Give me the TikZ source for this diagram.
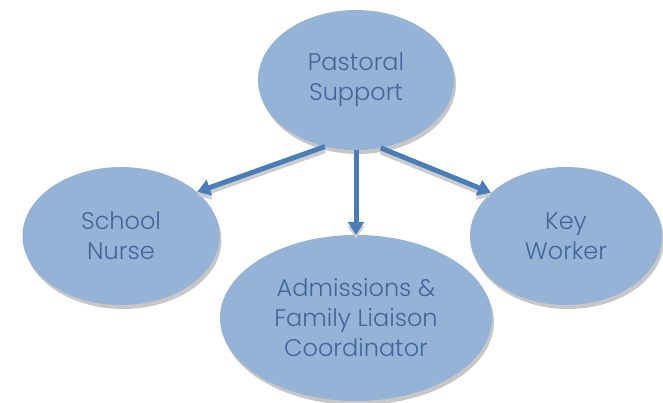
\documentclass[tikz,border=0pt]{standalone}
\usepackage{fontspec}
\setmainfont{Poppins}[UprightFont=* Light]
\usetikzlibrary{shapes.geometric,shadows,arrows.meta}
\definecolor{roleblue}{HTML}{95B3D7}
\definecolor{textblue}{HTML}{41669A}
\definecolor{arrowblue}{HTML}{4A7EBB}

\begin{document}
\begin{tikzpicture}[x=1pt,y=-1pt]
\tikzstyle{every node}+=[inner sep=0pt]
\tikzstyle{role}=[ellipse, fill=roleblue, text=textblue, align=center,
  font=\fontsize{24}{30}\selectfont,
  drop shadow={shadow xshift=2pt, shadow yshift=-4pt, fill=black!22, opacity=1}]
\tikzstyle{link}=[draw=arrowblue, line width=5pt, -{Triangle[width=16pt,length=13pt]}]
\tikzstyle{linkshadow}=[draw=black!20, line width=5pt, -{Triangle[width=16pt,length=13pt]},
  transform canvas={yshift=-4pt}]
\useasboundingbox (0,0) rectangle (663,403);
% the four roles
\node[role, minimum width=196pt, minimum height=140pt] (pastoral) at (356,80) {Pastoral\\Support};
\node[role, minimum width=197pt, minimum height=138pt] (nurse) at (121,236) {School\\Nurse};
\node[role, minimum width=192pt, minimum height=138pt] (keyworker) at (566,236) {Key\\Worker};
\node[role, minimum width=272pt, minimum height=166pt] (admissions) at (356,318) {Admissions \&\\Family Liaison\\Coordinator};
% arrows
\draw[linkshadow] (pastoral.-115) -- (nurse.30);
\draw[linkshadow] (pastoral.south) -- (admissions.north);
\draw[linkshadow] (pastoral.-70) -- (keyworker.150);
\draw[link] (pastoral.-115) -- (nurse.30);
\draw[link] (pastoral.south) -- (admissions.north);
\draw[link] (pastoral.-70) -- (keyworker.150);
\end{tikzpicture}
\end{document}
